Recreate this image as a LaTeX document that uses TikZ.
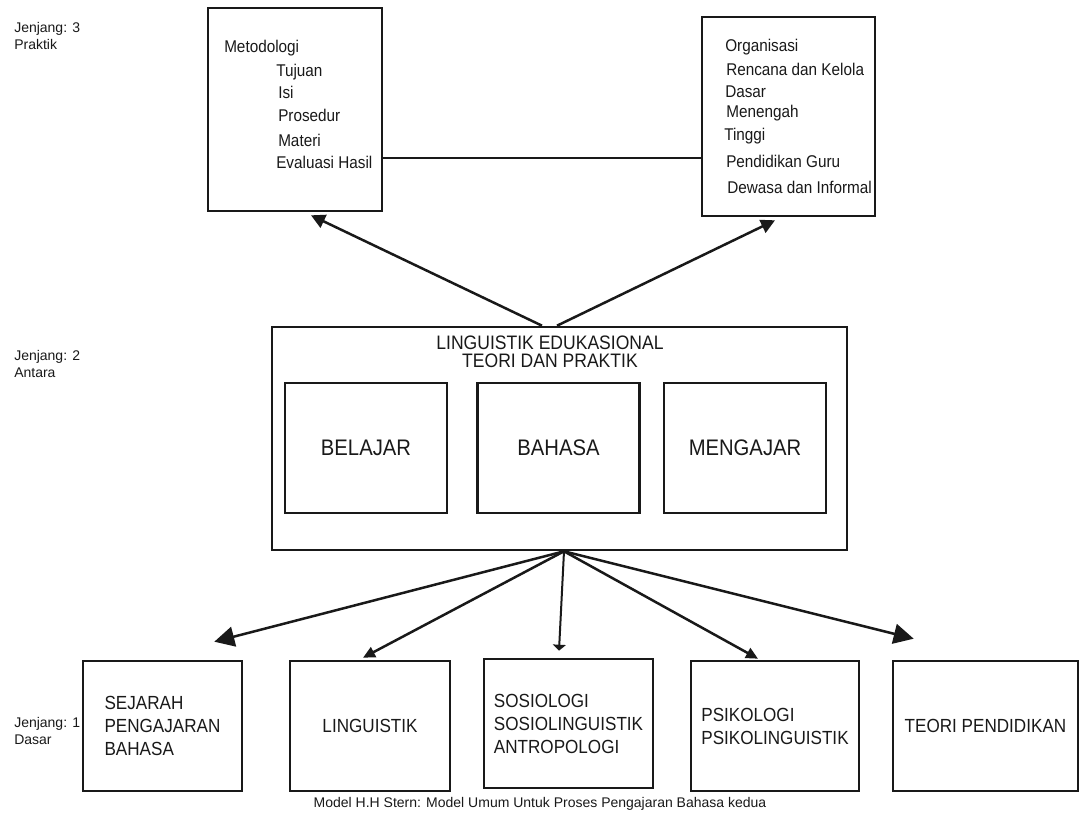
\documentclass[tikz,border=0pt]{standalone}
\usepackage{fontspec}
\setmainfont{Liberation Sans}
\newfontfamily\narrowfont{Liberation Sans}[FakeStretch=0.9]
\usetikzlibrary{arrows.meta}

\begin{document}
\begin{tikzpicture}[x=1pt, y=-1pt, line width=2.5pt, color=black!90,
    box/.style={draw, line width=2.6pt, inner sep=0pt, align=left, font=\narrowfont\fontsize{19}{23}\selectfont},
    item/.style={anchor=base west, inner sep=0pt, font=\narrowfont\fontsize{17}{20}\selectfont},
    level/.style={anchor=west, inner sep=0pt, align=left, font=\fontsize{14}{17}\selectfont},
    >={Triangle[length=14pt, width=14pt]}]
  \useasboundingbox (0,0) rectangle (1080,823);

  \node[level] (j3) at (13,36) {Jenjang: 3\\Praktik};
  \node[level] (j2) at (13,364) {Jenjang: 2\\Antara};
  \node[level] (j1) at (13,731) {Jenjang: 1\\Dasar};

  \node[box, minimum width=174, minimum height=203] (metode) at (295,109.5) {};
  \node[box, minimum width=173, minimum height=199] (org) at (788.5,116.5) {};

  \foreach \x/\y/\t [count=\i] in {223/52/Metodologi, 275/76/Tujuan, 277/98/Isi,
      277/121/Prosedur, 277/146/Materi, 275/168/Evaluasi Hasil}
    \node[item] (m\i) at (\x,\y) {\t};

  \foreach \x/\y/\t [count=\i] in {724/51/Organisasi, 725/75/Rencana dan Kelola, 724/97/Dasar,
      725/117/Menengah, 723/140/Tinggi, 725/167/Pendidikan Guru, 726/193/Dewasa dan Informal}
    \node[item] (o\i) at (\x,\y) {\t};

  \draw ([shift={(0,48.5)}]metode.east) -- ([shift={(0,41.5)}]org.west);

  \node[box, minimum width=575, minimum height=223] (mid) at (559.5,438.5) {};
  \node[inner sep=0pt, align=center, font=\narrowfont\fontsize{19.5}{18}\selectfont] (title)
    at (550,351.5) {LINGUISTIK EDUKASIONAL\\TEORI DAN PRAKTIK};
  \foreach \x/\t [count=\i] in {366/BELAJAR, 558.5/BAHASA, 745/MENGAJAR}
    \node[box, font=\narrowfont\fontsize{22.5}{25}\selectfont, minimum width=162, minimum height=130]
      (k\i) at (\x,448) {\t};

  \node[box, minimum width=159, minimum height=130] (sejarah) at (162.5,726) {SEJARAH\\PENGAJARAN\\BAHASA};
  \node[box, minimum width=160, minimum height=130] (linguistik) at (370,726) {LINGUISTIK};
  \node[box, minimum width=169, minimum height=129] (sosiologi) at (568.5,723.5) {SOSIOLOGI\\SOSIOLINGUISTIK\\ANTROPOLOGI};
  \node[box, minimum width=168, minimum height=130] (psikologi) at (775,726) {PSIKOLOGI\\PSIKOLINGUISTIK};
  \node[box, minimum width=185, minimum height=130] (teori) at (985.5,726) {TEORI PENDIDIKAN};

  \draw[->] ([shift={(-17.5,0)}]mid.north) -- ([shift={(16,3)}]metode.south);
  \draw[->] ([shift={(-2.5,0)}]mid.north) -- ([shift={(-13.5,3)}]org.south);

  \draw[-{Triangle[length=20pt, width=20pt]}] ([shift={(4.5,0)}]mid.south) -- ([shift={(-29,-18)}]sejarah.north east);
  \draw[-{Triangle[length=12pt, width=11pt]}] ([shift={(4.5,0)}]mid.south) -- ([shift={(-7,-2)}]linguistik.north);
  \draw[line width=2pt, -{Triangle[length=6pt, width=13pt]}] ([shift={(4.5,0)}]mid.south) -- ([shift={(-9.5,-7)}]sosiologi.north);
  \draw[-{Triangle[length=12pt, width=11pt]}] ([shift={(4.5,0)}]mid.south) -- ([shift={(-17,-1)}]psikologi.north);
  \draw[-{Triangle[length=20pt, width=20pt]}] ([shift={(4.5,0)}]mid.south) -- ([shift={(22,-21)}]teori.north west);

  \node[anchor=base, inner sep=0pt, font=\fontsize{14}{17}\selectfont] (caption) at (540,807)
    {Model H.H Stern: Model Umum Untuk Proses Pengajaran Bahasa kedua};
\end{tikzpicture}
\end{document}
